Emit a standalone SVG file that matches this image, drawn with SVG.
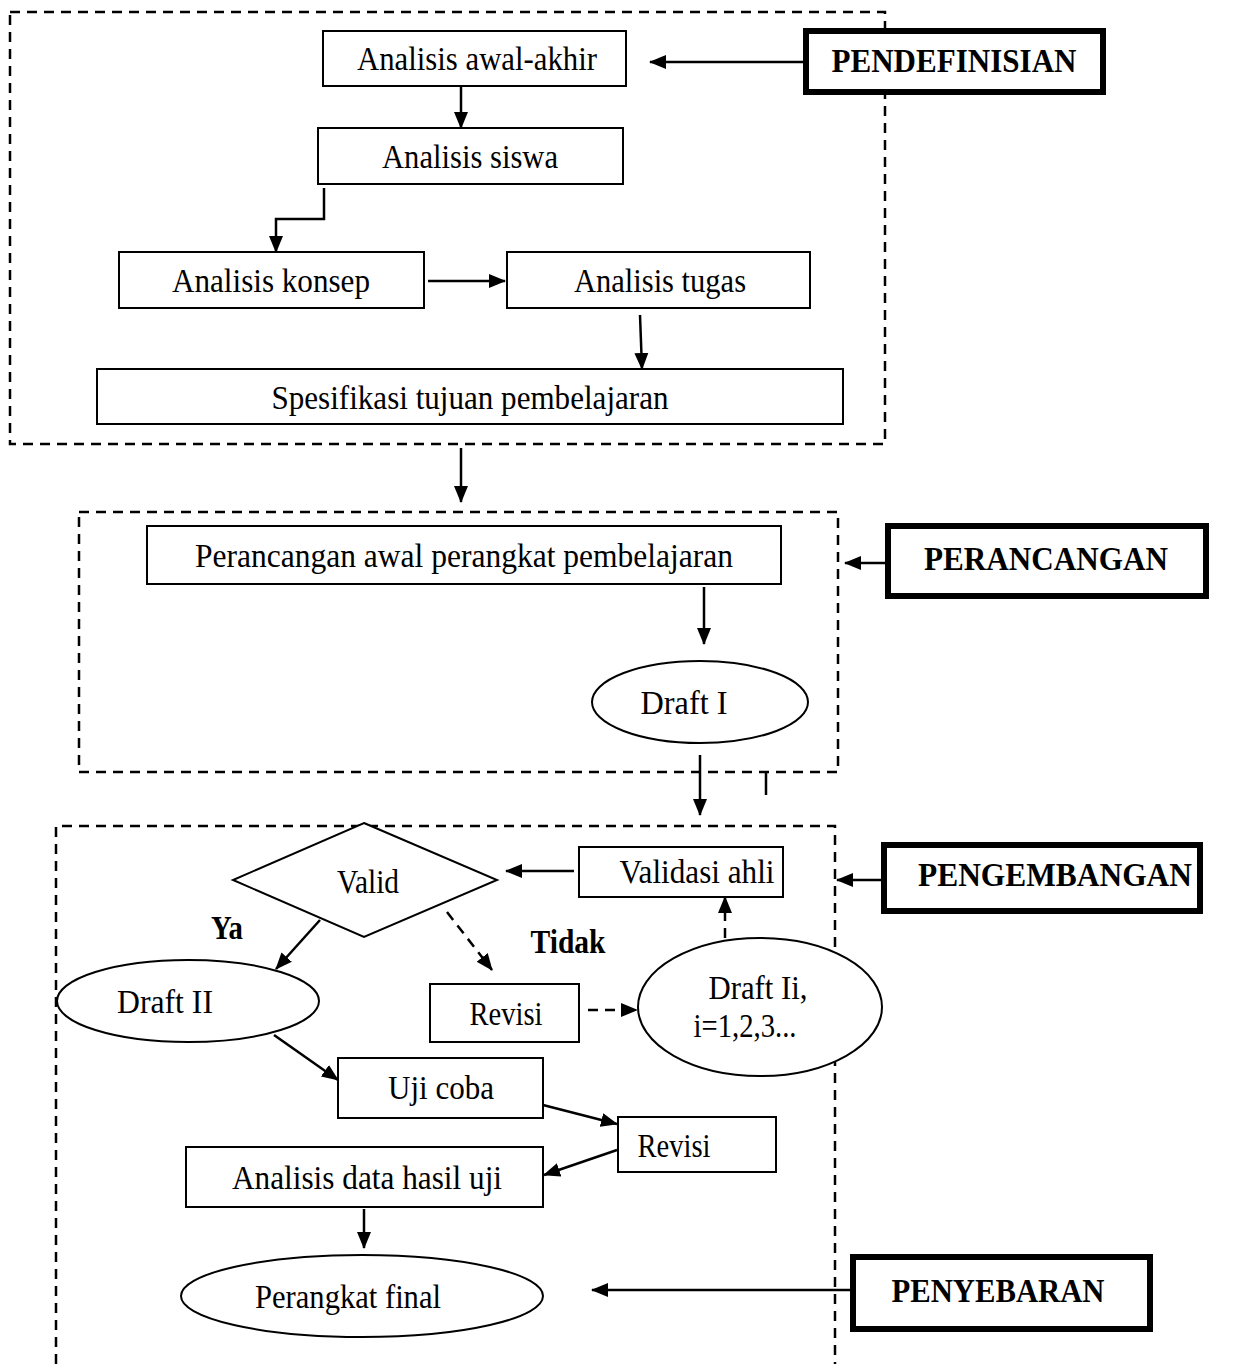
<svg xmlns="http://www.w3.org/2000/svg" width="1235" height="1364" viewBox="0 0 1235 1364">
<defs>
<style>
.t{font-family:"Liberation Serif","Times New Roman",serif;font-size:33px;fill:#000;text-anchor:middle}
.b{font-family:"Liberation Serif","Times New Roman",serif;font-size:34px;font-weight:bold;fill:#000;text-anchor:middle}
.box{fill:#fff;stroke:#000;stroke-width:2}
.lab{fill:#fff;stroke:#000;stroke-width:6}
.grp{fill:none;stroke:#000;stroke-width:2.5;stroke-dasharray:10 7}
.c{fill:none;stroke:#000;stroke-width:2.5}
.d{fill:none;stroke:#000;stroke-width:2.5;stroke-dasharray:10 7}
</style>
<marker id="ah" markerUnits="userSpaceOnUse" markerWidth="18" markerHeight="16" refX="16" refY="8" orient="auto">
<path d="M0,1 L17,8 L0,15 Z" fill="#000"/>
</marker>
</defs>
<rect width="1235" height="1364" fill="#fff"/>
<g id="groups">
<rect class="grp" x="10" y="12" width="875" height="432"/>
<rect class="grp" x="79" y="512" width="759" height="260"/>
<path class="grp" d="M56,1364 L56,826 L835,826 L835,1364"/>
</g>
<g id="connectors">
<line class="c" x1="461" y1="86" x2="461" y2="128" marker-end="url(#ah)"/>
<path class="c" d="M324,188 L324,219 L276,219 L276,252" marker-end="url(#ah)"/>
<line class="c" x1="428" y1="281" x2="505" y2="281" marker-end="url(#ah)"/>
<line class="c" x1="640" y1="315" x2="642" y2="369" marker-end="url(#ah)"/>
<line class="c" x1="803" y1="62" x2="650" y2="62" marker-end="url(#ah)"/>
<line class="c" x1="461" y1="448" x2="461" y2="502" marker-end="url(#ah)"/>
<line class="c" x1="886" y1="563" x2="845" y2="563" marker-end="url(#ah)"/>
<line class="c" x1="704" y1="587" x2="704" y2="644" marker-end="url(#ah)"/>
<line class="c" x1="700" y1="755" x2="700" y2="815" marker-end="url(#ah)"/>
<line class="c" x1="766" y1="772" x2="766" y2="795" stroke-width="2"/>
<line class="c" x1="574" y1="871" x2="506" y2="871" marker-end="url(#ah)"/>
<line class="c" x1="881" y1="880" x2="837" y2="880" marker-end="url(#ah)"/>
<line class="c" x1="320" y1="920" x2="276" y2="969" marker-end="url(#ah)"/>
<line class="d" x1="447" y1="912" x2="492" y2="970" marker-end="url(#ah)"/>
<line class="d" x1="588" y1="1010" x2="637" y2="1010" marker-end="url(#ah)"/>
<line class="d" x1="725" y1="938" x2="725" y2="897" marker-end="url(#ah)"/>
<line class="c" x1="274" y1="1035" x2="338" y2="1080" marker-end="url(#ah)"/>
<line class="c" x1="543" y1="1105" x2="617" y2="1124" marker-end="url(#ah)"/>
<line class="c" x1="617" y1="1150" x2="544" y2="1175" marker-end="url(#ah)"/>
<line class="c" x1="364" y1="1209" x2="364" y2="1248" marker-end="url(#ah)"/>
<line class="c" x1="852" y1="1290" x2="592" y2="1290" marker-end="url(#ah)"/>
</g>
<g id="n-awal"><rect class="box" x="323" y="31" width="303" height="55"/><text class="t" x="477" y="70" textLength="240" lengthAdjust="spacingAndGlyphs">Analisis awal-akhir</text></g>
<g id="n-siswa"><rect class="box" x="318" y="128" width="305" height="56"/><text class="t" x="470" y="168" textLength="176" lengthAdjust="spacingAndGlyphs">Analisis siswa</text></g>
<g id="n-konsep"><rect class="box" x="119" y="252" width="305" height="56"/><text class="t" x="271" y="292" textLength="198" lengthAdjust="spacingAndGlyphs">Analisis konsep</text></g>
<g id="n-tugas"><rect class="box" x="507" y="252" width="303" height="56"/><text class="t" x="660" y="292" textLength="172" lengthAdjust="spacingAndGlyphs">Analisis tugas</text></g>
<g id="n-spesifikasi"><rect class="box" x="97" y="369" width="746" height="55"/><text class="t" x="470" y="409" textLength="397" lengthAdjust="spacingAndGlyphs">Spesifikasi tujuan pembelajaran</text></g>
<g id="l-pendefinisian"><rect class="lab" x="806" y="31" width="297" height="61"/><text class="b" x="954" y="72" textLength="245" lengthAdjust="spacingAndGlyphs">PENDEFINISIAN</text></g>
<g id="n-perancangan"><rect class="box" x="147" y="526" width="634" height="58"/><text class="t" x="464" y="567" textLength="538" lengthAdjust="spacingAndGlyphs">Perancangan awal perangkat pembelajaran</text></g>
<g id="l-perancangan"><rect class="lab" x="888" y="526" width="318" height="70"/><text class="b" x="1046" y="570" textLength="244" lengthAdjust="spacingAndGlyphs">PERANCANGAN</text></g>
<g id="n-draft1"><ellipse class="box" cx="700" cy="702" rx="108" ry="41"/><text class="t" x="684" y="714" textLength="87" lengthAdjust="spacingAndGlyphs">Draft I</text></g>
<g id="n-valid"><polygon class="box" points="364,823 497,880 364,937 233,880"/><text class="t" x="368" y="893" textLength="62" lengthAdjust="spacingAndGlyphs">Valid</text></g>
<g id="n-validasi"><rect class="box" x="579" y="847" width="204" height="50"/><text class="t" x="697" y="883" textLength="155" lengthAdjust="spacingAndGlyphs">Validasi ahli</text></g>
<g id="l-pengembangan"><rect class="lab" x="884" y="845" width="316" height="66"/><text class="b" x="1055" y="886" textLength="274" lengthAdjust="spacingAndGlyphs">PENGEMBANGAN</text></g>
<text class="b" x="227" y="939" textLength="32" lengthAdjust="spacingAndGlyphs">Ya</text>
<text class="b" x="568" y="953" textLength="75" lengthAdjust="spacingAndGlyphs">Tidak</text>
<g id="n-draft2"><ellipse class="box" cx="188" cy="1001" rx="131" ry="41"/><text class="t" x="165" y="1013" textLength="96" lengthAdjust="spacingAndGlyphs">Draft II</text></g>
<g id="n-revisi1"><rect class="box" x="430" y="984" width="149" height="58"/><text class="t" x="506" y="1025" textLength="73" lengthAdjust="spacingAndGlyphs">Revisi</text></g>
<g id="n-draftIi"><ellipse class="box" cx="760" cy="1007" rx="122" ry="69"/><text class="t" x="758" y="999" textLength="99" lengthAdjust="spacingAndGlyphs">Draft Ii,</text><text class="t" x="745" y="1037" textLength="103" lengthAdjust="spacingAndGlyphs">i=1,2,3...</text></g>
<g id="n-ujicoba"><rect class="box" x="338" y="1058" width="205" height="60"/><text class="t" x="441" y="1099" textLength="106" lengthAdjust="spacingAndGlyphs">Uji coba</text></g>
<g id="n-revisi2"><rect class="box" x="618" y="1117" width="158" height="55"/><text class="t" x="674" y="1157" textLength="73" lengthAdjust="spacingAndGlyphs">Revisi</text></g>
<g id="n-analisisdata"><rect class="box" x="186" y="1147" width="357" height="60"/><text class="t" x="367" y="1189" textLength="270" lengthAdjust="spacingAndGlyphs">Analisis data hasil uji</text></g>
<g id="n-final"><ellipse class="box" cx="362" cy="1296" rx="181" ry="41"/><text class="t" x="348" y="1308" textLength="186" lengthAdjust="spacingAndGlyphs">Perangkat final</text></g>
<g id="l-penyebaran"><rect class="lab" x="853" y="1257" width="297" height="72"/><text class="b" x="998" y="1302" textLength="213" lengthAdjust="spacingAndGlyphs">PENYEBARAN</text></g>
</svg>
